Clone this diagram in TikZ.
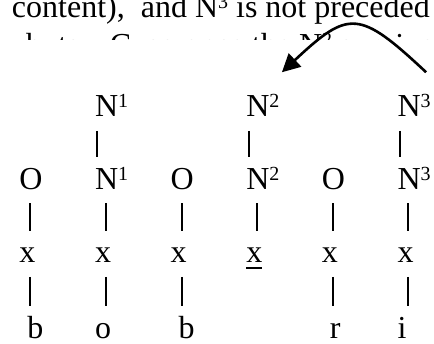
\documentclass[tikz,border=0pt]{standalone}
\usepackage{fontspec}
\setmainfont{Liberation Serif}
\usetikzlibrary{arrows.meta}
% raised index as in the source text
\newcommand{\idx}[1]{\raisebox{9pt}{\fontsize{20}{20}\selectfont #1}}

\begin{document}
\begin{tikzpicture}[x=1pt, y=-1pt, line cap=butt, >={Triangle[length=18pt,width=18pt]},
  font=\fontsize{32}{38}\selectfont,
  lbl/.style={inner sep=0pt, outer sep=0pt, anchor=base west},
  bar/.style={line width=2pt, black}]
  \useasboundingbox (0,0) rectangle (434,344);
  \def\cw{75.6}
  \def\cx{19.5}

  % running text above, second line cut off
  \node[lbl] (txtA) at (12,18) {content),\ \ and N\idx{3} is not preceded};
  \begin{scope}
    \clip (0,0) rectangle (434,39.5);
    \node[lbl] (txtB) at (12,55.5) {abuts a C, so once the N\idx{2} survives};
  \end{scope}

  % top row of nuclei
  \foreach \i/\lab in {1/1,3/2,5/3}
    \node[lbl] (top\i) at ({\cx+\i*\cw},117) {N\idx{\lab}};

  % onsets and nuclei
  \foreach \i/\lab in {0/O,1/N\idx{1},2/O,3/N\idx{2},4/O,5/N\idx{3}}
    \node[lbl] (on\i) at ({\cx+\i*\cw},189.5) {\lab};

  % skeleton
  \foreach \i in {0,...,5}
    \node[lbl] (sk\i) at ({\cx+\i*\cw},263) {x};

  % segments
  \foreach \i/\lab in {0/\ b,1/o,2/\ b,4/\ r,5/i}
    \node[lbl] (seg\i) at ({\cx+\i*\cw},338.5) {\lab};

  % association lines
  \foreach \i in {1,3,5}
    \draw[bar] ([xshift=2.3pt,yshift=-14pt]top\i.base west) -- ([xshift=2.3pt,yshift=32pt]on\i.base west);
  \foreach \i in {0,...,5}
    \draw[bar] ([xshift=10.8pt,yshift=-14pt]on\i.base west) -- ([xshift=10.8pt,yshift=32pt]sk\i.base west);
  \foreach \i in {0,1,2,4,5}
    \draw[bar] ([xshift=10.8pt,yshift=-14pt]sk\i.base west) -- ([xshift=10.8pt,yshift=32pt]seg\i.base west);

  % empty slot underlined
  \draw[line width=1.7pt] ([yshift=-4.7pt]sk3.base west) -- ([yshift=-4.7pt]sk3.base east);

  % government N3 -> N2
  \draw[->, line width=2.6pt] ([xshift=-4.5pt,yshift=22.5pt]top5.north east)
    .. controls +(-67,-62.7) and +(67,-62.7) .. ([xshift=2.5pt,yshift=22.5pt]top3.north east);
\end{tikzpicture}
\end{document}
